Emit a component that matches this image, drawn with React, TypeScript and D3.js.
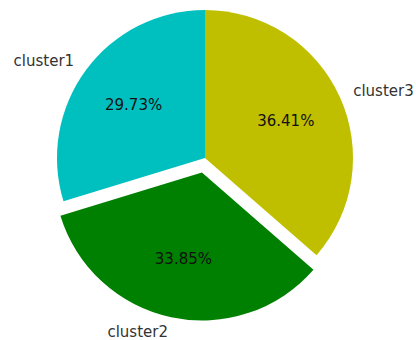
import React from "react";
import * as d3 from "d3";

const categories = ["cluster1", "cluster2", "cluster3"];
const values = [29.73, 33.85, 36.41];
const colors = ["#00bfbf", "#008000", "#bfbf00"];
const explode = [0, 0.1, 0];

export default function App() {
  const width = 416;
  const height = 340;
  const cx = 205;
  const cy = 158;
  const r = 148;
  const total = d3.sum(values);
  // matplotlib-like: start at 90deg, counterclockwise
  const pie = d3
    .pie<number>()
    .sort(null)
    .startAngle(0)
    .endAngle(-2 * Math.PI)
    .value((d) => d);
  const arcs = pie(values);
  const arcGen = d3.arc<d3.PieArcDatum<number>>().innerRadius(0).outerRadius(r);
  return (
    <svg
      width={width}
      height={height}
      style={{ position: "absolute", left: 0, top: 0, background: "#fff" }}
      fontFamily="DejaVu Sans"
    >
      {arcs.map((a, i) => {
        const mid = (a.startAngle + a.endAngle) / 2; // d3 angle: 0 at top, clockwise positive
        const dx = Math.sin(mid);
        const dy = -Math.cos(mid);
        const ox = cx + explode[i] * r * dx;
        const oy = cy + explode[i] * r * dy;
        const lx = ox + 1.1 * r * dx;
        const ly = oy + 1.1 * r * dy;
        const px = ox + 0.6 * r * dx;
        const py = oy + 0.6 * r * dy;
        return (
          <g key={categories[i]}>
            <path
              d={arcGen(a) || ""}
              transform={`translate(${ox},${oy})`}
              fill={colors[i]}
            />
            <text
              x={lx}
              y={ly}
              textAnchor={dx < 0 ? "end" : "start"}
              dominantBaseline="central"
              fontSize={15}
              fill="#333"
            >
              {categories[i]}
            </text>
            <text
              x={px}
              y={py}
              textAnchor="middle"
              dominantBaseline="central"
              fontSize={15}
              fill="#111"
            >
              {((values[i] / total) * 100).toFixed(2) + "%"}
            </text>
          </g>
        );
      })}
    </svg>
  );
}
